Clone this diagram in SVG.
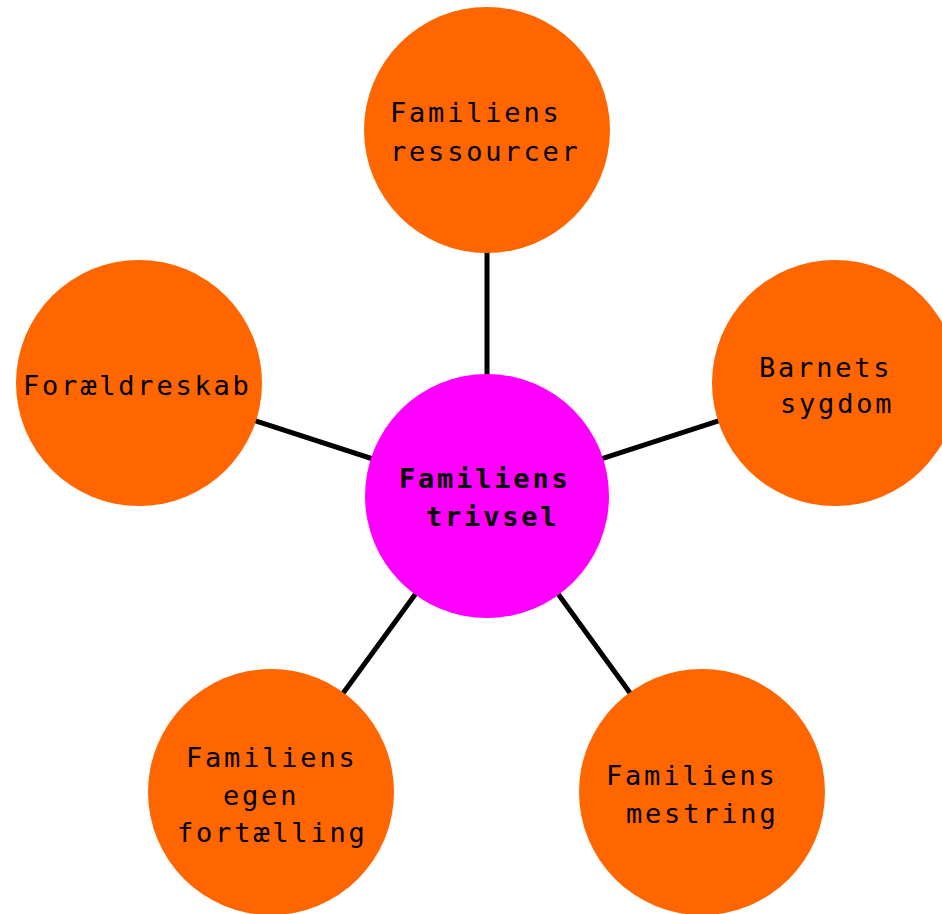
<svg xmlns="http://www.w3.org/2000/svg" width="942" height="914" viewBox="0 0 942 914">
<style>
.c{stroke:#000;stroke-width:5;fill:none}
.o{fill:#FF6600}
.m{fill:#FF00FF}
text{font-family:"DejaVu Sans Mono","Liberation Mono",monospace;font-size:27px;letter-spacing:2.8px;fill:#000}
.b{font-weight:bold}
</style>
<rect width="942" height="914" fill="#fff"/>
<g id="connectors">
<line class="c" x1="487" y1="496" x2="487" y2="130"/>
<line class="c" x1="487" y1="496" x2="139" y2="383"/>
<line class="c" x1="487" y1="496" x2="835" y2="383"/>
<line class="c" x1="487" y1="496" x2="271" y2="792"/>
<line class="c" x1="487" y1="496" x2="702" y2="792"/>
</g>
<g id="n-top"><circle class="o" cx="487" cy="130" r="123"/>
<text x="390" y="122">Familiens</text><text x="390" y="161">ressourcer</text></g>
<g id="n-left"><circle class="o" cx="139" cy="383" r="123"/>
<text x="23" y="395">Forældreskab</text></g>
<g id="n-right"><circle class="o" cx="835" cy="383" r="123"/>
<text x="759" y="377">Barnets</text><text x="780" y="413">sygdom</text></g>
<g id="n-bl"><circle class="o" cx="271" cy="792" r="123"/>
<text x="186" y="767">Familiens</text><text x="223" y="805">egen</text><text x="177" y="842">fortælling</text></g>
<g id="n-br"><circle class="o" cx="702" cy="792" r="123"/>
<text x="606" y="785">Familiens</text><text x="626" y="823">mestring</text></g>
<g id="n-center"><circle class="m" cx="487" cy="496" r="122"/>
<text class="b" x="399" y="488">Familiens</text><text class="b" x="426" y="526">trivsel</text></g>
</svg>
